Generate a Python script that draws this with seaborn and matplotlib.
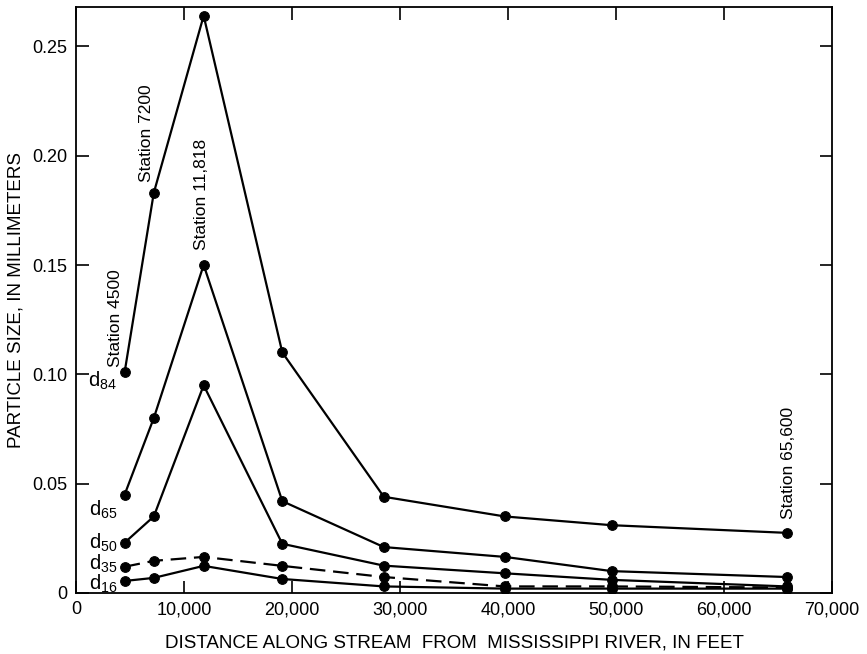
import matplotlib
matplotlib.use("Agg")
import matplotlib.pyplot as plt
import seaborn as sns
import pandas as pd

# distance along stream (ft) of the sampling stations
distance = [4500, 7200, 11818, 19100, 28500, 39700, 49600, 65800]

# particle size (mm) for each percentile
d84 = [0.101, 0.183, 0.264, 0.110, 0.044, 0.035, 0.031, 0.0275]
d65 = [0.045, 0.080, 0.150, 0.042, 0.021, 0.0165, 0.010, 0.0073]
d50 = [0.023, 0.035, 0.095, 0.0225, 0.0125, 0.009, 0.006, 0.003]
d35 = [0.012, 0.0147, 0.0165, 0.0124, 0.0073, 0.003, 0.003, 0.0025]
d16 = [0.0055, 0.0069, 0.0124, 0.0064, 0.003, 0.002, 0.002, 0.002]

series_names = ["84", "65", "50", "35", "16"]
label_y = [0.097, 0.038, 0.023, 0.0135, 0.0040]

x_ticks = [0, 10000, 20000, 30000, 40000, 50000, 60000, 70000]
x_tick_labels = ["0", "10,000", "20,000", "30,000", "40,000", "50,000", "60,000", "70,000"]
y_ticks = [0, 0.05, 0.10, 0.15, 0.20, 0.25]
y_tick_labels = ["0", "0.05", "0.10", "0.15", "0.20", "0.25"]

station_labels = ["Station 4500", "Station 7200", "Station 11,818", "Station 65,600"]
station_pos = [(3650, 0.1035), (6500, 0.188), (11600, 0.157), (66000, 0.034)]

df = pd.DataFrame({
    "distance": distance * 5,
    "size": d84 + d65 + d50 + d35 + d16,
    "series": sum([[n] * len(distance) for n in series_names], []),
})

sns.set_style("ticks")
plt.rcParams["font.family"] = ["Liberation Sans", "DejaVu Sans"]
plt.rcParams["mathtext.default"] = "regular"
for key in ["text.color", "axes.labelcolor", "xtick.color", "ytick.color", "axes.edgecolor"]:
    plt.rcParams[key] = "black"

fig = plt.figure(figsize=(8.67, 6.54), dpi=100)
ax = fig.add_axes([0.0877, 0.0933, 0.8719, 0.8960])

for name in series_names:
    sub = df[df["series"] == name]
    ls = "--" if name == "35" else "-"
    sns.lineplot(data=sub, x="distance", y="size", ax=ax, color="black",
                 linewidth=1.6, linestyle=ls, marker="o", markersize=7,
                 markeredgecolor="black", legend=False)
    if name == "35":
        ax.lines[-1].set_dashes((7, 3.5))

# curve labels
for name, yy in zip(series_names, label_y):
    ax.text(3800, yy, "$d_{%s}$" % name, ha="right", va="center", fontsize=14.5)

# station labels
for lab, (sx, sy) in zip(station_labels, station_pos):
    ax.text(sx, sy, lab, rotation=90, ha="center", va="bottom", fontsize=12.5)

ax.set_xlim(0, 70000)
ax.set_ylim(0, 0.268)
ax.set_xticks(x_ticks)
ax.set_xticklabels(x_tick_labels)
ax.set_yticks(y_ticks)
ax.set_yticklabels(y_tick_labels)
ax.tick_params(direction="in", length=9, width=1.2, top=True, right=True,
               labelsize=13, pad=6)
for sp in ax.spines.values():
    sp.set_linewidth(1.3)

ax.set_xlabel("DISTANCE ALONG STREAM  FROM  MISSISSIPPI RIVER, IN FEET",
              fontsize=13.5, labelpad=12)
ax.set_ylabel("PARTICLE SIZE, IN MILLIMETERS", fontsize=13.5, labelpad=6)

fig.savefig("out.png", dpi=100)
